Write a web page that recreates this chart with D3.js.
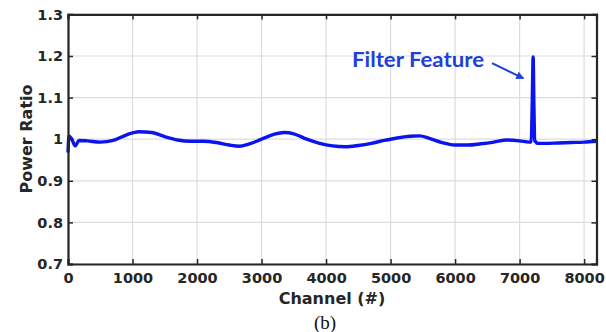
<!DOCTYPE html>
<html><head><meta charset="utf-8">
<script src="https://cdn.jsdelivr.net/npm/d3@7"></script>
<style>body{margin:0;background:#fff}svg{display:block}</style>
</head><body><svg id="c" width="606" height="332"></svg>
<script>
const channels = [0,15,60,110,170,300,500,700,900,1100,1300,1500,1700,1900,2100,2300,2500,2650,2800,3000,3200,3350,3500,3700,3900,4100,4300,4500,4700,4900,5100,5300,5450,5600,5800,6000,6200,6400,6600,6800,7000,7150,7180,7195,7210,7222,7235,7250,7270,7400,7600,7800,8000,8192];
const powerRatio = [0.968,1.008,1.000,0.984,0.997,0.996,0.993,0.997,1.010,1.018,1.016,1.006,0.998,0.995,0.995,0.992,0.986,0.983,0.988,1.000,1.012,1.016,1.013,1.000,0.990,0.984,0.982,0.985,0.990,0.997,1.003,1.007,1.008,1.002,0.992,0.986,0.986,0.989,0.993,0.998,0.996,0.993,0.994,1.08,1.198,1.08,0.996,0.994,0.990,0.990,0.991,0.992,0.993,0.995];
const xTicks = [0,1000,2000,3000,4000,5000,6000,7000,8000];
const yTicks = [0.7,0.8,0.9,1.0,1.1,1.2,1.3];
const yTickLabels = ["0.7","0.8","0.9","1","1.1","1.2","1.3"];

const svg = d3.select("#c");
const L=68,R=596.5,T=14.4,B=264;
const x = d3.scaleLinear().domain([0,8192]).range([L,R]);
const y = d3.scaleLinear().domain([0.7,1.3]).range([B,T]);

// grid
svg.append("g").selectAll("line").data(xTicks).join("line")
  .attr("x1",d=>x(d)).attr("x2",d=>x(d)).attr("y1",T).attr("y2",B)
  .attr("stroke","#dcdcdc").attr("stroke-width",1.2);
svg.append("g").selectAll("line").data(yTicks).join("line")
  .attr("x1",L).attr("x2",R).attr("y1",d=>y(d)).attr("y2",d=>y(d))
  .attr("stroke","#dcdcdc").attr("stroke-width",1.2);

// data line
const line = d3.line().x((d,i)=>x(channels[i])).y(d=>y(d)).curve(d3.curveMonotoneX);
svg.append("path").datum(powerRatio).attr("d",line)
  .attr("fill","none").attr("stroke","#0a14f0").attr("stroke-width",3.4).attr("stroke-linejoin","round");

// axes
const tickLen=5;
const fontTick = "bold 14.5px 'DejaVu Sans', sans-serif";
const gx = svg.append("g").attr("transform",`translate(0,${B})`)
  .call(d3.axisBottom(x).tickValues(xTicks).tickSize(-tickLen).tickPadding(9).tickFormat(d3.format("d")));
const gy = svg.append("g").attr("transform",`translate(${L},0)`)
  .call(d3.axisLeft(y).tickValues(yTicks).tickSize(-tickLen).tickPadding(5).tickFormat((d,i)=>yTickLabels[i]));
const gt = svg.append("g").attr("transform",`translate(0,${T})`)
  .call(d3.axisTop(x).tickValues(xTicks).tickSize(-tickLen).tickFormat(""));
const gr = svg.append("g").attr("transform",`translate(${R},0)`)
  .call(d3.axisRight(y).tickValues(yTicks).tickSize(-tickLen).tickFormat(""));
[gx,gy,gt,gr].forEach(g=>{
  g.select(".domain").attr("stroke","#262626").attr("stroke-width",2.2);
  g.selectAll(".tick line").attr("stroke","#262626").attr("stroke-width",1.5);
  g.selectAll("text").attr("fill","#262626").style("font",fontTick);
});
gx.selectAll("text").attr("dy","0.71em");

// axis labels
svg.append("text").attr("x",332).attr("y",304).attr("text-anchor","middle")
  .attr("fill","#262626").style("font","bold 16px 'DejaVu Sans', sans-serif").text("Channel (#)");
svg.append("text").attr("transform","translate(32,139) rotate(-90)").attr("text-anchor","middle")
  .attr("fill","#262626").style("font","bold 16px 'DejaVu Sans', sans-serif").text("Power Ratio");

// annotation
svg.append("text").attr("x",352).attr("y",67).attr("fill","#1f3fd6")
  .attr("textLength",132).attr("lengthAdjust","spacingAndGlyphs")
  .style("font","bold 20px Lato, sans-serif").text("Filter Feature");
const defs = svg.append("defs");
defs.append("marker").attr("id","ah").attr("viewBox","0 0 10 10").attr("refX",9).attr("refY",5)
  .attr("markerWidth",4).attr("markerHeight",4).attr("orient","auto")
  .append("path").attr("d","M0,0L10,5L0,10z").attr("fill","#1f3fd6");
svg.append("line").attr("x1",x(6572)).attr("y1",y(1.183)).attr("x2",x(7060)).attr("y2",y(1.146))
  .attr("stroke","#1f3fd6").attr("stroke-width",2).attr("marker-end","url(#ah)");

// caption
svg.append("text").attr("x",325).attr("y",329).attr("text-anchor","middle")
  .attr("fill","#111").style("font","19px 'Liberation Serif', serif").text("(b)");
</script></body></html>
